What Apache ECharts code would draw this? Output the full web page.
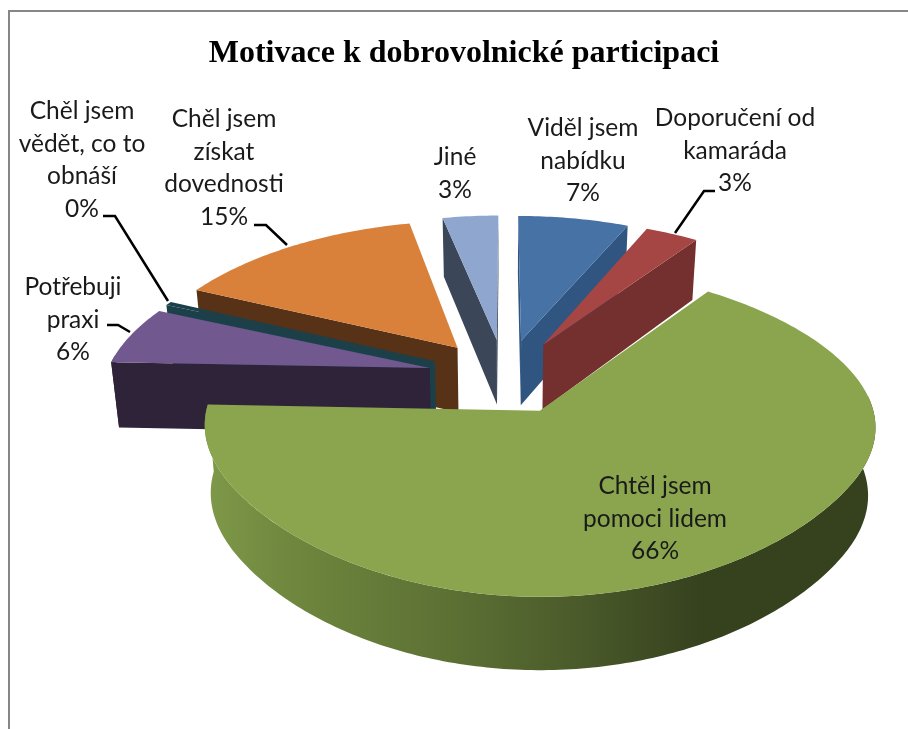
<!DOCTYPE html>
<html>
<head>
<meta charset="utf-8">
<title>Motivace k dobrovolnické participaci</title>
<style>
html,body{margin:0;padding:0;background:#fff;}
#main{width:908px;height:729px;}
</style>
<script src="https://cdn.jsdelivr.net/npm/echarts@6/dist/echarts.min.js"></script>
</head>
<body>
<div id="main"></div>
<script>
var chartTitle = 'Motivace k dobrovolnické participaci';
var categories = ['Viděl jsem\nnabídku', 'Doporučení od\nkamaráda', 'Chtěl jsem\npomoci lidem', 'Potřebuji\npraxi', 'Chěl jsem\nvědět, co to\nobnáší', 'Chěl jsem\nzískat\ndovednosti', 'Jiné'];
var values = [6.9, 3.2, 65.5, 5.8, 0.4, 14.71, 3.49];
var topColors = ['#4672a6', '#a64644', '#8aa54d', '#71588f', '#1c404a', '#d9813a', '#8fa7cf'];
var sideColors = ['#2f5580', '#73302e', '#36411e', '#2e2339', '#1c404a', '#573216', '#3b4658'];

// painter's order, back slices first
var drawOrder = [6, 5, 4, 3, 0, 1, 2];

// label anchor (centre x, y of first line), picture px
var labelPos = [[583, 128], [735, 118], [655, 486], [73, 287], [82, 111], [224, 119], [455, 157]];
// leader lines
var leaders = [
    [[715, 191], [704, 191], [675, 233]],
    [[254, 225], [266, 225], [287, 245]],
    [[103, 216], [115, 216], [168, 301]],
    [[107, 325], [118, 325], [130, 332]]
];

var total = 0;
var starts = [];
for (var i = 0; i < values.length; i++) {
    starts.push(total);
    total += values[i];
}

// fake perspective of the tilted disc
var cx = 505, cy = 376, R = 333, explode = 0.24;

function project(X, Y) {
    var s;
    if (Y > 0.3) {
        s = 0.975 - 0.17 * Y;
    } else {
        // eases from the back slope to flat at the front, no kink on the rim
        var t = Math.min((0.3 - Y) / 0.95, 1);
        s = 0.924 + 0.105 * ((t * t * t - 2 * t * t + t) * 1.538 + 3 * t * t - 2 * t * t * t);
    }
    return [cx + R * X * s, cy - 155.8 * Y + 21.2 * Y * Y];
}
function dropDown(X, Y) {
    var p = project(X, Y);
    return [cx + (p[0] - cx) * 0.98, p[1] + 66 - 6 * Y];
}

function renderSlice(params, api) {
    var idx = api.value(0);
    var a0 = starts[idx] / total * Math.PI * 2;
    var a1 = (starts[idx] + api.value(1)) / total * Math.PI * 2;
    var mid = (a0 + a1) / 2;
    var ox = explode * Math.sin(mid), oy = explode * Math.cos(mid);

    function rim(fn, from, to) {
        var pts = [];
        var n = Math.max(2, Math.ceil((to - from) * 60));
        for (var k = 0; k <= n; k++) {
            var a = from + (to - from) * k / n;
            pts.push(fn(ox + Math.sin(a), oy + Math.cos(a)));
        }
        return pts;
    }

    var children = [];
    var side = sideColors[idx];
    var apexTop = project(ox, oy), apexBottom = dropDown(ox, oy);
    var midPt = project(ox + Math.sin(mid), oy + Math.cos(mid));

    // cut faces, only the ones turned to the viewer
    [a0, a1].forEach(function (a) {
        var X = ox + Math.sin(a), Y = oy + Math.cos(a);
        var p = project(X, Y);
        var cross = (p[0] - apexTop[0]) * (midPt[1] - apexTop[1]) - (p[1] - apexTop[1]) * (midPt[0] - apexTop[0]);
        var facing = (p[0] > apexTop[0]) ? cross < 0 : cross > 0;
        if (facing) {
            children.push({
                type: 'polygon',
                shape: {points: [apexTop, p, dropDown(X, Y), apexBottom]},
                style: {fill: side}
            });
        }
    });

    // outer wall at the front
    var wallFrom = Math.max(a0, 85 * Math.PI / 180), wallTo = Math.min(a1, 275 * Math.PI / 180);
    if (wallTo > wallFrom) {
        var wall = rim(project, wallFrom, wallTo).concat(rim(dropDown, wallFrom, wallTo).reverse());
        var fill = side;
        if (idx === 2) {
            fill = new echarts.graphic.LinearGradient(0, 0, 1, 0, [
                {offset: 0, color: '#7f9949'},
                {offset: 0.125, color: '#6f873e'},
                {offset: 0.39, color: '#5a6e33'},
                {offset: 0.56, color: '#4a5a2a'},
                {offset: 0.74, color: '#36411e'},
                {offset: 1, color: '#36411e'}
            ]);
        }
        children.push({type: 'polygon', shape: {points: wall}, style: {fill: fill}});
    }

    // top face
    children.push({
        type: 'polygon',
        shape: {points: [apexTop].concat(rim(project, a0, a1))},
        style: {fill: topColors[idx]}
    });

    return {type: 'group', children: children};
}

var labelTexts = categories.map(function (c, i) {
    return c + '\n' + Math.round(values[i] / total * 100) + '%';
});

var graphics = [
    {type: 'polyline', shape: {points: [[9, 729], [9, 11], [908, 11]]}, style: {stroke: '#868686', lineWidth: 2, fill: null}}
];
leaders.forEach(function (l) {
    graphics.push({type: 'polyline', z: 10, shape: {points: l}, style: {stroke: '#000', lineWidth: 2.5, fill: null}});
});
labelTexts.forEach(function (t, i) {
    graphics.push({
        type: 'text',
        z: 20,
        x: labelPos[i][0],
        y: labelPos[i][1] - 16,
        style: {
            text: t,
            fill: '#1a1a1a',
            font: '24.5px Lato',
            lineHeight: 32.5,
            align: 'center',
            verticalAlign: 'top'
        }
    });
});

var myChart = echarts.init(document.getElementById('main'));
var option = {
    animation: false,
    backgroundColor: '#fff',
    title: {
        text: chartTitle,
        left: 459,
        top: 33,
        textAlign: 'center',
        textStyle: {
            fontFamily: 'Liberation Serif',
            fontWeight: 'bold',
            fontSize: 32,
            color: '#000'
        }
    },
    graphic: graphics,
    series: [{
        type: 'custom',
        coordinateSystem: 'none',
        renderItem: renderSlice,
        data: drawOrder.map(function (i) {
            return [i, values[i]];
        })
    }]
};
myChart.setOption(option);
</script>
</body>
</html>
